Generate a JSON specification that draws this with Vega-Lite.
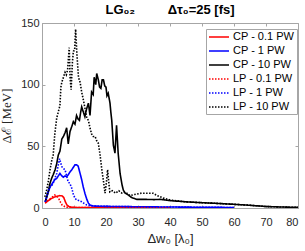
{
  "$schema": "https://vega.github.io/schema/vega-lite/v6.json",
  "autosize": {"type": "none"},
  "padding": {"left": 42, "top": 23, "right": 7, "bottom": 43},
  "width": 256,
  "height": 185,
  "title": {"text": "LG₀₂\u00a0\u00a0\u00a0\u00a0\u00a0\u00a0\u00a0\u00a0\u00a0Δτ₀=25 [fs]", "fontSize": 13, "fontWeight": "bold", "font": "Liberation Sans", "color": "#000", "offset": 0},
  "config": {
    "font": "Liberation Sans",
    "view": {"stroke": "#a6a6a6", "strokeWidth": 1},
    "axis": {"grid": false, "domainColor": "#a6a6a6", "tickColor": "#a6a6a6", "labelColor": "#262626", "labelFontSize": 11, "titleColor": "#262626", "titleFontWeight": "normal"}
  },
  "data": {"values": [
    {"s":"CP - 0.1 PW","x":1,"y":4},{"s":"CP - 0.1 PW","x":2,"y":6},{"s":"CP - 0.1 PW","x":3,"y":7.8},{"s":"CP - 0.1 PW","x":4,"y":9},{"s":"CP - 0.1 PW","x":5,"y":9.7},{"s":"CP - 0.1 PW","x":5.6,"y":10},{"s":"CP - 0.1 PW","x":6.3,"y":9.8},{"s":"CP - 0.1 PW","x":6.8,"y":8.5},{"s":"CP - 0.1 PW","x":7.3,"y":5},{"s":"CP - 0.1 PW","x":7.8,"y":2.4},{"s":"CP - 0.1 PW","x":8.5,"y":1},{"s":"CP - 0.1 PW","x":9.5,"y":0.5},{"s":"CP - 0.1 PW","x":12,"y":0.4},{"s":"CP - 0.1 PW","x":20,"y":0.3},{"s":"CP - 0.1 PW","x":30,"y":0.3},{"s":"CP - 0.1 PW","x":40,"y":0.2},
    {"s":"CP - 1 PW","x":1,"y":5},{"s":"CP - 1 PW","x":1.5,"y":9},{"s":"CP - 1 PW","x":2,"y":13},{"s":"CP - 1 PW","x":2.5,"y":17},{"s":"CP - 1 PW","x":3,"y":19},{"s":"CP - 1 PW","x":3.5,"y":21},{"s":"CP - 1 PW","x":4,"y":23},{"s":"CP - 1 PW","x":4.6,"y":24},{"s":"CP - 1 PW","x":5.1,"y":26},{"s":"CP - 1 PW","x":5.6,"y":28},{"s":"CP - 1 PW","x":6.2,"y":26},{"s":"CP - 1 PW","x":6.7,"y":25},{"s":"CP - 1 PW","x":7.2,"y":26},{"s":"CP - 1 PW","x":7.7,"y":25.5},{"s":"CP - 1 PW","x":8.2,"y":27},{"s":"CP - 1 PW","x":8.7,"y":29},{"s":"CP - 1 PW","x":9.3,"y":31},{"s":"CP - 1 PW","x":9.8,"y":33},{"s":"CP - 1 PW","x":10.3,"y":35},{"s":"CP - 1 PW","x":10.8,"y":35},{"s":"CP - 1 PW","x":11.3,"y":34},{"s":"CP - 1 PW","x":11.8,"y":29},{"s":"CP - 1 PW","x":12.4,"y":23},{"s":"CP - 1 PW","x":12.9,"y":17},{"s":"CP - 1 PW","x":13.4,"y":12},{"s":"CP - 1 PW","x":14,"y":7},{"s":"CP - 1 PW","x":14.5,"y":4},{"s":"CP - 1 PW","x":15,"y":2.5},{"s":"CP - 1 PW","x":16,"y":1.6},{"s":"CP - 1 PW","x":18,"y":1.4},{"s":"CP - 1 PW","x":20,"y":1.3},{"s":"CP - 1 PW","x":25,"y":1.2},{"s":"CP - 1 PW","x":30,"y":1},{"s":"CP - 1 PW","x":40,"y":0.8},{"s":"CP - 1 PW","x":50,"y":0.6},{"s":"CP - 1 PW","x":60,"y":0.4},
    {"s":"CP - 10 PW","x":1,"y":5},{"s":"CP - 10 PW","x":1.5,"y":9},{"s":"CP - 10 PW","x":2,"y":14},{"s":"CP - 10 PW","x":2.5,"y":20},{"s":"CP - 10 PW","x":3,"y":24},{"s":"CP - 10 PW","x":3.5,"y":27},{"s":"CP - 10 PW","x":4.1,"y":31},{"s":"CP - 10 PW","x":4.6,"y":36},{"s":"CP - 10 PW","x":5.1,"y":43},{"s":"CP - 10 PW","x":5.6,"y":46},{"s":"CP - 10 PW","x":6.2,"y":56},{"s":"CP - 10 PW","x":6.7,"y":58},{"s":"CP - 10 PW","x":7.2,"y":61},{"s":"CP - 10 PW","x":7.7,"y":65},{"s":"CP - 10 PW","x":8.2,"y":52},{"s":"CP - 10 PW","x":8.75,"y":62},{"s":"CP - 10 PW","x":9.3,"y":66},{"s":"CP - 10 PW","x":9.8,"y":70},{"s":"CP - 10 PW","x":10.3,"y":68},{"s":"CP - 10 PW","x":10.8,"y":75},{"s":"CP - 10 PW","x":11.3,"y":72},{"s":"CP - 10 PW","x":11.7,"y":71},{"s":"CP - 10 PW","x":12.1,"y":78},{"s":"CP - 10 PW","x":12.4,"y":82},{"s":"CP - 10 PW","x":12.9,"y":78},{"s":"CP - 10 PW","x":13.4,"y":74},{"s":"CP - 10 PW","x":13.9,"y":80},{"s":"CP - 10 PW","x":14.5,"y":85},{"s":"CP - 10 PW","x":15,"y":75},{"s":"CP - 10 PW","x":15.5,"y":94},{"s":"CP - 10 PW","x":16,"y":92},{"s":"CP - 10 PW","x":16.3,"y":106},{"s":"CP - 10 PW","x":16.8,"y":100},{"s":"CP - 10 PW","x":17.1,"y":109},{"s":"CP - 10 PW","x":17.6,"y":104},{"s":"CP - 10 PW","x":18,"y":98},{"s":"CP - 10 PW","x":18.4,"y":97},{"s":"CP - 10 PW","x":18.8,"y":104},{"s":"CP - 10 PW","x":19.2,"y":104},{"s":"CP - 10 PW","x":19.6,"y":99},{"s":"CP - 10 PW","x":20,"y":98},{"s":"CP - 10 PW","x":20.3,"y":91},{"s":"CP - 10 PW","x":20.7,"y":93},{"s":"CP - 10 PW","x":21.25,"y":85},{"s":"CP - 10 PW","x":21.5,"y":78},{"s":"CP - 10 PW","x":21.8,"y":71},{"s":"CP - 10 PW","x":22.3,"y":51},{"s":"CP - 10 PW","x":22.8,"y":44.5},{"s":"CP - 10 PW","x":23.3,"y":67},{"s":"CP - 10 PW","x":23.8,"y":44.5},{"s":"CP - 10 PW","x":24.4,"y":28},{"s":"CP - 10 PW","x":25,"y":19},{"s":"CP - 10 PW","x":25.4,"y":14.6},{"s":"CP - 10 PW","x":26,"y":12},{"s":"CP - 10 PW","x":27,"y":10.5},{"s":"CP - 10 PW","x":28,"y":8.5},{"s":"CP - 10 PW","x":29.6,"y":7},{"s":"CP - 10 PW","x":32,"y":7},{"s":"CP - 10 PW","x":35,"y":6.8},{"s":"CP - 10 PW","x":37,"y":7},{"s":"CP - 10 PW","x":40,"y":6},{"s":"CP - 10 PW","x":45,"y":5},{"s":"CP - 10 PW","x":50,"y":4.3},{"s":"CP - 10 PW","x":55,"y":3.7},{"s":"CP - 10 PW","x":60,"y":3},{"s":"CP - 10 PW","x":65,"y":2.2},{"s":"CP - 10 PW","x":70,"y":1.2},{"s":"CP - 10 PW","x":75,"y":0.8},{"s":"CP - 10 PW","x":80,"y":0.5},
    {"s":"LP - 0.1 PW","x":1,"y":4},{"s":"LP - 0.1 PW","x":2,"y":6.5},{"s":"LP - 0.1 PW","x":3,"y":8.5},{"s":"LP - 0.1 PW","x":4,"y":10.5},{"s":"LP - 0.1 PW","x":4.6,"y":9.5},{"s":"LP - 0.1 PW","x":5.2,"y":7.8},{"s":"LP - 0.1 PW","x":5.8,"y":4.5},{"s":"LP - 0.1 PW","x":6.3,"y":2.4},{"s":"LP - 0.1 PW","x":7.2,"y":1},{"s":"LP - 0.1 PW","x":8,"y":0.5},{"s":"LP - 0.1 PW","x":12,"y":0.4},{"s":"LP - 0.1 PW","x":20,"y":0.3},{"s":"LP - 0.1 PW","x":30,"y":0.3},{"s":"LP - 0.1 PW","x":40,"y":0.2},
    {"s":"LP - 1 PW","x":1,"y":5},{"s":"LP - 1 PW","x":1.5,"y":10},{"s":"LP - 1 PW","x":2,"y":14.6},{"s":"LP - 1 PW","x":2.5,"y":17},{"s":"LP - 1 PW","x":3,"y":18},{"s":"LP - 1 PW","x":3.5,"y":20},{"s":"LP - 1 PW","x":4,"y":24},{"s":"LP - 1 PW","x":4.6,"y":28},{"s":"LP - 1 PW","x":5.1,"y":35},{"s":"LP - 1 PW","x":5.5,"y":40},{"s":"LP - 1 PW","x":5.9,"y":36},{"s":"LP - 1 PW","x":6.2,"y":33.5},{"s":"LP - 1 PW","x":6.7,"y":32},{"s":"LP - 1 PW","x":7.2,"y":31},{"s":"LP - 1 PW","x":7.7,"y":26},{"s":"LP - 1 PW","x":8.2,"y":21},{"s":"LP - 1 PW","x":8.7,"y":20},{"s":"LP - 1 PW","x":9.3,"y":16},{"s":"LP - 1 PW","x":9.8,"y":11},{"s":"LP - 1 PW","x":10.3,"y":8},{"s":"LP - 1 PW","x":10.8,"y":6.5},{"s":"LP - 1 PW","x":11.5,"y":6},{"s":"LP - 1 PW","x":12.4,"y":5},{"s":"LP - 1 PW","x":13,"y":4},{"s":"LP - 1 PW","x":14,"y":2.4},{"s":"LP - 1 PW","x":15,"y":1.8},{"s":"LP - 1 PW","x":20,"y":1.3},{"s":"LP - 1 PW","x":30,"y":1},{"s":"LP - 1 PW","x":40,"y":0.8},{"s":"LP - 1 PW","x":50,"y":0.6},{"s":"LP - 1 PW","x":60,"y":0.4},
    {"s":"LP - 10 PW","x":0.9,"y":9},{"s":"LP - 10 PW","x":1.5,"y":15},{"s":"LP - 10 PW","x":2,"y":22},{"s":"LP - 10 PW","x":2.5,"y":31},{"s":"LP - 10 PW","x":3,"y":38},{"s":"LP - 10 PW","x":3.5,"y":43},{"s":"LP - 10 PW","x":4,"y":60},{"s":"LP - 10 PW","x":4.6,"y":73},{"s":"LP - 10 PW","x":5.1,"y":78},{"s":"LP - 10 PW","x":5.6,"y":83},{"s":"LP - 10 PW","x":5.9,"y":98},{"s":"LP - 10 PW","x":6.2,"y":102},{"s":"LP - 10 PW","x":6.7,"y":106},{"s":"LP - 10 PW","x":7.2,"y":110},{"s":"LP - 10 PW","x":7.6,"y":108},{"s":"LP - 10 PW","x":8,"y":112},{"s":"LP - 10 PW","x":8.5,"y":130},{"s":"LP - 10 PW","x":8.8,"y":105},{"s":"LP - 10 PW","x":9.1,"y":96},{"s":"LP - 10 PW","x":9.5,"y":118},{"s":"LP - 10 PW","x":9.8,"y":127},{"s":"LP - 10 PW","x":10.2,"y":128},{"s":"LP - 10 PW","x":10.5,"y":145},{"s":"LP - 10 PW","x":10.9,"y":125},{"s":"LP - 10 PW","x":11.4,"y":106},{"s":"LP - 10 PW","x":11.9,"y":102},{"s":"LP - 10 PW","x":12.4,"y":94},{"s":"LP - 10 PW","x":12.9,"y":88},{"s":"LP - 10 PW","x":13.5,"y":80},{"s":"LP - 10 PW","x":14,"y":73},{"s":"LP - 10 PW","x":14.5,"y":71},{"s":"LP - 10 PW","x":15,"y":65},{"s":"LP - 10 PW","x":15.5,"y":60},{"s":"LP - 10 PW","x":16,"y":58},{"s":"LP - 10 PW","x":16.6,"y":58},{"s":"LP - 10 PW","x":17,"y":55},{"s":"LP - 10 PW","x":17.6,"y":52.5},{"s":"LP - 10 PW","x":18.1,"y":44},{"s":"LP - 10 PW","x":18.7,"y":31},{"s":"LP - 10 PW","x":19.2,"y":22},{"s":"LP - 10 PW","x":19.7,"y":12},{"s":"LP - 10 PW","x":20.1,"y":20},{"s":"LP - 10 PW","x":20.5,"y":31},{"s":"LP - 10 PW","x":20.9,"y":20},{"s":"LP - 10 PW","x":21.2,"y":13},{"s":"LP - 10 PW","x":22,"y":14},{"s":"LP - 10 PW","x":23,"y":12},{"s":"LP - 10 PW","x":24,"y":14},{"s":"LP - 10 PW","x":25,"y":12},{"s":"LP - 10 PW","x":26,"y":13},{"s":"LP - 10 PW","x":27.5,"y":10},{"s":"LP - 10 PW","x":29,"y":11},{"s":"LP - 10 PW","x":31,"y":12},{"s":"LP - 10 PW","x":33,"y":12},{"s":"LP - 10 PW","x":34.7,"y":12},{"s":"LP - 10 PW","x":36,"y":10},{"s":"LP - 10 PW","x":38,"y":8},{"s":"LP - 10 PW","x":40,"y":6.5},{"s":"LP - 10 PW","x":45,"y":5},{"s":"LP - 10 PW","x":50,"y":4.3},{"s":"LP - 10 PW","x":55,"y":3.7},{"s":"LP - 10 PW","x":60,"y":3},{"s":"LP - 10 PW","x":65,"y":2.2},{"s":"LP - 10 PW","x":70,"y":1.2},{"s":"LP - 10 PW","x":75,"y":0.8},{"s":"LP - 10 PW","x":80,"y":0.5}
  ]},
  "layer": [
    {
      "mark": {"type": "line", "strokeWidth": 1.6, "clip": true},
      "encoding": {
        "x": {"field": "x", "type": "quantitative", "scale": {"domain": [0, 80], "nice": false},
              "axis": {"orient": "bottom", "values": [0,10,20,30,40,50,60,70,80], "tickSize": -3, "labelPadding": 11, "title": "Δw₀ [λ₀]", "titleFontSize": 13, "titlePadding": 5}},
        "y": {"field": "y", "type": "quantitative", "scale": {"domain": [0, 150], "nice": false},
              "axis": {"orient": "left", "values": [0,50,100,150], "tickSize": -3, "labelPadding": 6, "title": "Δℰ [MeV]", "titleFont": "Liberation Serif", "titleFontSize": 13, "titlePadding": 7}},
        "color": {"field": "s", "type": "nominal",
                  "scale": {"domain": ["CP - 0.1 PW","CP - 1 PW","CP - 10 PW","LP - 0.1 PW","LP - 1 PW","LP - 10 PW"], "range": ["#ff0000","#0000ff","#000000","#ff0000","#0000ff","#000000"]},
                  "legend": {"title": null, "orient": "none", "legendX": 164, "legendY": 6, "padding": 2, "strokeColor": "#a6a6a6", "fillColor": "#ffffff", "symbolType": "M-1,0H3", "symbolSize": 100, "symbolStrokeWidth": 1.6, "labelFontSize": 11, "labelColor": "#000", "labelOffset": 13, "rowPadding": 3, "cornerRadius": 0}},
        "strokeDash": {"field": "s", "type": "nominal",
                  "scale": {"domain": ["CP - 0.1 PW","CP - 1 PW","CP - 10 PW","LP - 0.1 PW","LP - 1 PW","LP - 10 PW"], "range": [[1,0],[1,0],[1,0],[1.5,1.5],[1.5,1.5],[1.5,1.5]]},
                  "legend": {"title": null, "orient": "none", "legendX": 164, "legendY": 6, "padding": 2, "strokeColor": "#a6a6a6", "fillColor": "#ffffff", "symbolType": "M-1,0H3", "symbolSize": 100, "symbolStrokeWidth": 1.6, "labelFontSize": 11, "labelColor": "#000", "labelOffset": 13, "rowPadding": 3, "cornerRadius": 0}}
      }
    },
    {
      "mark": {"type": "line", "opacity": 0},
      "encoding": {
        "x": {"field": "x", "type": "quantitative", "axis": {"orient": "top", "values": [0,10,20,30,40,50,60,70,80], "tickSize": -3, "labels": false, "title": null, "domain": false}},
        "y": {"field": "y", "type": "quantitative", "axis": {"orient": "right", "values": [0,50,100,150], "tickSize": -3, "labels": false, "title": null, "domain": false}}
      }
    }
  ],
  "resolve": {"axis": {"x": "independent", "y": "independent"}}
}
